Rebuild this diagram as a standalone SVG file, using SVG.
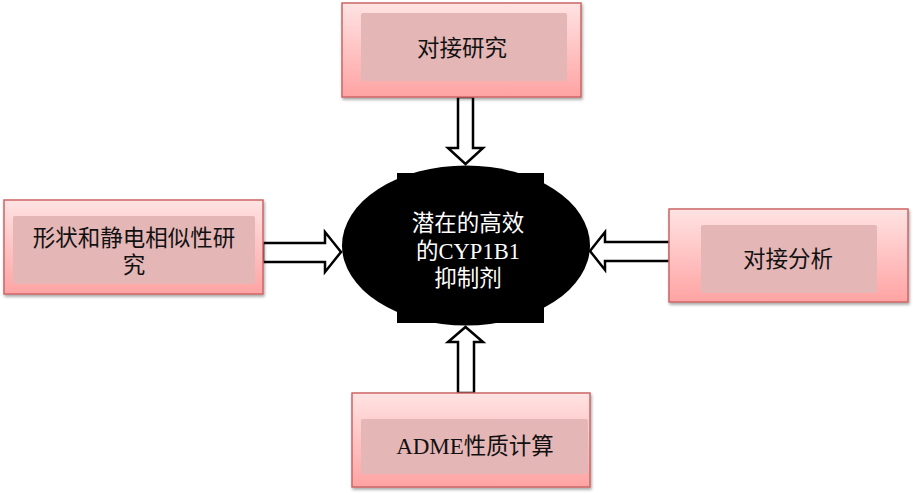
<svg xmlns="http://www.w3.org/2000/svg" width="913" height="495" viewBox="0 0 913 495">
<defs>
<linearGradient id="g" x1="0" y1="0" x2="0" y2="1">
<stop offset="0" stop-color="#ffe3e3"/>
<stop offset="1" stop-color="#ffa3a3"/>
</linearGradient>
<filter id="sh" x="-10%" y="-10%" width="125%" height="130%">
<feGaussianBlur in="SourceAlpha" stdDeviation="1.5"/>
<feOffset dx="1" dy="2"/>
<feComponentTransfer><feFuncA type="linear" slope="0.35"/></feComponentTransfer>
<feMerge><feMergeNode/><feMergeNode in="SourceGraphic"/></feMerge>
</filter>
</defs>
<style>
.outer{fill:url(#g);stroke:#cc6666;stroke-width:1.5;filter:url(#sh)}
.inner{fill:#e4b6b6}
.t{font-family:"Noto Sans CJK SC","Liberation Sans",sans-serif;font-size:22.5px;fill:#111;text-anchor:middle}
.w{font-family:"Liberation Serif","Noto Sans CJK SC",serif;font-size:22.5px;fill:#fff;text-anchor:middle}
.arr{fill:#fff;stroke:#000;stroke-width:2.5;stroke-linejoin:miter}
</style>
<rect width="913" height="495" fill="#fff"/>
<g id="center">
<ellipse cx="466" cy="245.5" rx="124" ry="80" fill="#000"/>
<rect x="397" y="173" width="147" height="150" fill="#000"/>
<text class="w" x="468" y="231">潜在的高效<tspan x="468" y="259">的CYP1B1</tspan><tspan x="468" y="286">抑制剂</tspan></text>
</g>
<g id="connectors">
<polygon class="arr" points="458,97 473,97 473,148 483,148 465.5,164 448,148 458,148"/>
<polygon class="arr" points="458,393 474,393 474,342 483,342 465.5,327 448,342 458,342"/>
<polygon class="arr" points="263,243 325,243 325,232 341,252 325,272 325,262 263,262"/>
<polygon class="arr" points="670,242 605,242 605,232 590,251 605,270 605,261 670,261"/>
</g>
<g id="top">
<rect class="outer" x="342" y="3" width="239" height="94"/>
<rect class="inner" x="361" y="13" width="206" height="68" rx="2"/>
<text class="t" x="462" y="56">对接研究</text>
</g>
<g id="left">
<rect class="outer" x="4" y="200" width="259" height="94"/>
<rect class="inner" x="13" y="216" width="242" height="68" rx="2"/>
<text class="t" x="134" y="246">形状和静电相似性研<tspan x="134" y="273">究</tspan></text>
</g>
<g id="right">
<rect class="outer" x="669" y="209" width="239" height="93"/>
<rect class="inner" x="701" y="225" width="176" height="68" rx="2"/>
<text class="t" x="788" y="267">对接分析</text>
</g>
<g id="bottom">
<rect class="outer" x="352" y="393" width="238" height="94"/>
<rect class="inner" x="361" y="419" width="227" height="55" rx="2"/>
<text class="t" x="475" y="454"><tspan font-family="Liberation Serif,serif" font-size="23">ADME</tspan>性质计算</text>
</g>
</svg>
